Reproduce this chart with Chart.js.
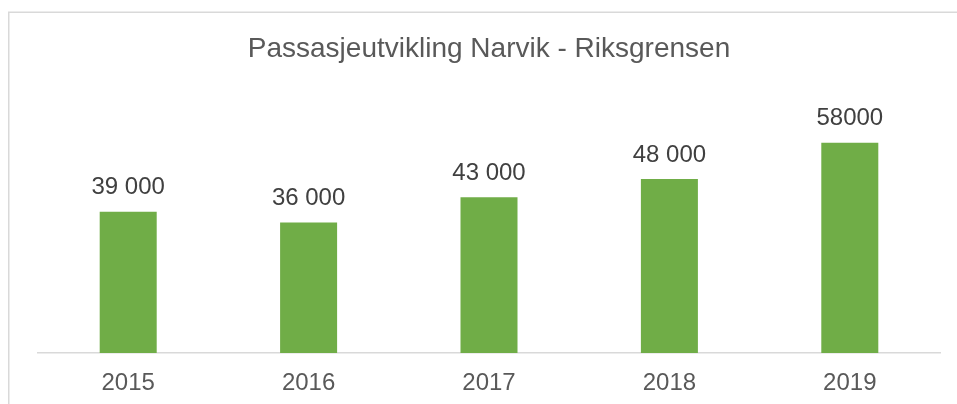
<!DOCTYPE html>
<html>
<head>
<meta charset="utf-8">
<script src="https://cdn.jsdelivr.net/npm/chart.js@4.4.0/dist/chart.umd.min.js"></script>
<style>
  html, body { margin: 0; padding: 0; background: #fff; }
  #wrap { width: 957px; height: 404px; }
</style>
</head>
<body>
<div id="wrap"><canvas id="grafico"></canvas></div>
<script>
const aar = ["2015", "2016", "2017", "2018", "2019"];
const passasjerer = [39000, 36000, 43000, 48000, 58000];
const etiketter = ["39 000", "36 000", "43 000", "48 000", "58000"];

// ramme rundt diagrammet (venstre og topp synlig)
const ramme = {
    id: "ramme",
    beforeDraw(chart) {
        const ctx = chart.ctx;
        ctx.save();
        ctx.strokeStyle = "#d9d9d9";
        ctx.lineWidth = 1.5;
        ctx.beginPath();
        ctx.moveTo(8.75, 404);
        ctx.lineTo(8.75, 12.25);
        ctx.lineTo(957, 12.25);
        ctx.stroke();
        ctx.restore();
    },
};

// verdier over stolpene
const verdier = {
    id: "verdier",
    afterDatasetsDraw(chart) {
        const ctx = chart.ctx;
        const meta = chart.getDatasetMeta(0);
        ctx.save();
        ctx.font = "24px 'Liberation Sans', Arial, sans-serif";
        ctx.fillStyle = "#404040";
        ctx.textAlign = "center";
        ctx.textBaseline = "middle";
        meta.data.forEach((bar, i) => {
            ctx.fillText(etiketter[i], bar.x, bar.y - 24);
        });
        ctx.restore();
    },
};

const data = {
    labels: aar,
    datasets: [
        {
            label: "Passasjerer",
            backgroundColor: "#70ad47",
            data: passasjerer,
            categoryPercentage: 1,
            barPercentage: 0.316,
        },
    ],
};

const config = {
    type: "bar",
    data: data,
    plugins: [ramme, verdier],
    options: {
        responsive: true,
        maintainAspectRatio: false,
        animation: false,
        layout: {
            padding: { left: 38, right: 17, top: 0, bottom: 7 },
        },
        plugins: {
            legend: { display: false },
            tooltip: { enabled: false },
            title: {
                display: true,
                text: "Passasjeutvikling Narvik - Riksgrensen",
                color: "#595959",
                padding: { top: 32, bottom: 70 },
                font: {
                    size: 28,
                    weight: "normal",
                    family: "'Liberation Sans', Arial, sans-serif",
                },
            },
        },
        scales: {
            x: {
                grid: { display: false, drawTicks: false },
                border: { display: true, color: "#d9d9d9", width: 1.5 },
                ticks: {
                    padding: 16,
                    color: "#595959",
                    font: { size: 24, family: "'Liberation Sans', Arial, sans-serif" },
                },
                afterFit(scale) {
                    scale.height = 44;
                },
            },
            y: {
                display: false,
                min: 0,
                max: 60000,
            },
        },
    },
};

const grafico = new Chart(document.getElementById("grafico"), config);
</script>
</body>
</html>
